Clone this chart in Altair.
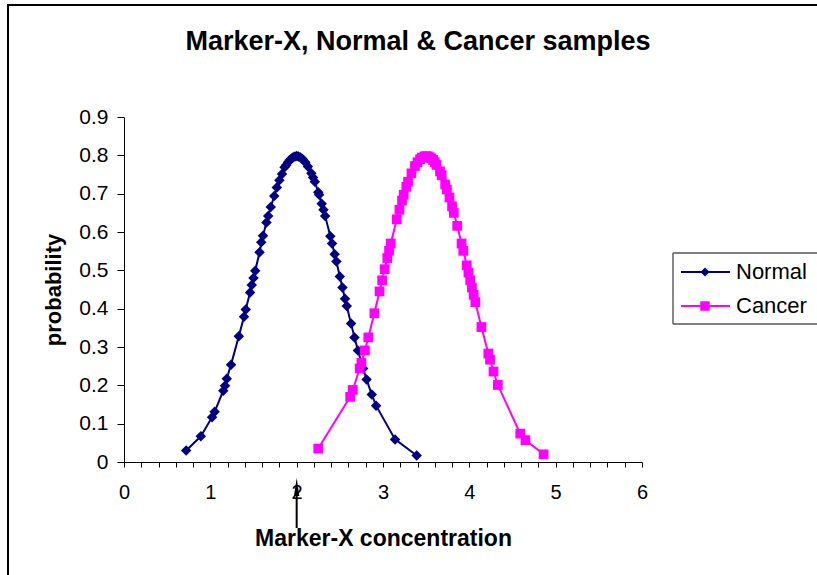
import altair as alt
import pandas as pd

# Sample points for each group: marker concentration and its probability
normal_x = [0.72, 0.89, 1.02, 1.05, 1.15, 1.17, 1.19, 1.24, 1.33, 1.39, 1.41, 1.46, 1.48, 1.50,
            1.52, 1.57, 1.59, 1.61, 1.65, 1.67, 1.70, 1.74, 1.77, 1.80, 1.83, 1.86, 1.88, 1.90,
            1.92, 1.94, 1.96, 1.98, 2.00, 2.02, 2.04, 2.06, 2.07, 2.10, 2.13, 2.17, 2.19, 2.21,
            2.25, 2.26, 2.29, 2.31, 2.33, 2.39, 2.41, 2.44, 2.46, 2.50, 2.53, 2.56, 2.58, 2.63,
            2.67, 2.71, 2.77, 2.81, 2.87, 2.92, 3.14, 3.39]
normal_y = [0.030, 0.067, 0.117, 0.131, 0.186, 0.199, 0.217, 0.254, 0.328, 0.379, 0.398, 0.442,
            0.462, 0.480, 0.499, 0.547, 0.573, 0.590, 0.625, 0.642, 0.665, 0.694, 0.716, 0.735,
            0.751, 0.769, 0.775, 0.782, 0.788, 0.792, 0.795, 0.797, 0.798, 0.797, 0.795, 0.792,
            0.790, 0.782, 0.771, 0.753, 0.742, 0.731, 0.704, 0.697, 0.674, 0.658, 0.642, 0.589,
            0.570, 0.542, 0.523, 0.484, 0.455, 0.426, 0.407, 0.361, 0.325, 0.291, 0.244, 0.215,
            0.176, 0.147, 0.059, 0.017]

cancer_x = [2.25, 2.62, 2.65, 2.73, 2.75, 2.79, 2.83, 2.90, 2.96, 2.99, 3.02, 3.05, 3.07, 3.09,
            3.16, 3.19, 3.22, 3.24, 3.27, 3.29, 3.33, 3.37, 3.40, 3.43, 3.45, 3.48, 3.50, 3.52,
            3.54, 3.56, 3.58, 3.60, 3.62, 3.66, 3.68, 3.72, 3.74, 3.77, 3.80, 3.82, 3.86, 3.91,
            3.93, 3.97, 3.99, 4.01, 4.03, 4.05, 4.07, 4.14, 4.22, 4.24, 4.28, 4.33, 4.59, 4.65,
            4.86]
cancer_y = [0.035, 0.170, 0.188, 0.244, 0.259, 0.291, 0.325, 0.388, 0.445, 0.474, 0.503, 0.532,
            0.551, 0.570, 0.633, 0.658, 0.682, 0.697, 0.718, 0.731, 0.753, 0.772, 0.782, 0.790,
            0.794, 0.797, 0.798, 0.797, 0.795, 0.792, 0.788, 0.782, 0.775, 0.758, 0.748, 0.724,
            0.711, 0.690, 0.667, 0.650, 0.616, 0.570, 0.551, 0.513, 0.494, 0.474, 0.455, 0.436,
            0.417, 0.352, 0.283, 0.267, 0.236, 0.201, 0.074, 0.057, 0.020]

series_names = ["Normal", "Cancer"]
series_colors = ["#000080", "#FF00FF"]
series_shapes = ["diamond", "square"]

x_tick_values = [0, 0.2, 0.4, 0.6, 0.8, 1, 1.2, 1.4, 1.6, 1.8, 2, 2.2, 2.4, 2.6, 2.8, 3,
                 3.2, 3.4, 3.6, 3.8, 4, 4.2, 4.4, 4.6, 4.8, 5, 5.2, 5.4, 5.6, 5.8, 6]
y_tick_values = [0, 0.1, 0.2, 0.3, 0.4, 0.5, 0.6, 0.7, 0.8, 0.9]

title_text = "Marker-X, Normal & Cancer samples"
x_title = "Marker-X concentration"
y_title = "probability"
arrow_at = 2

FONT = "Liberation Sans"
W, H = 518, 345

df = pd.concat([
    pd.DataFrame({"x": normal_x, "y": normal_y, "series": "Normal"}),
    pd.DataFrame({"x": cancer_x, "y": cancer_y, "series": "Cancer"}),
])

x_enc = alt.X(
    "x:Q",
    scale=alt.Scale(domain=[0, 6], nice=False, zero=False),
    axis=alt.Axis(
        values=x_tick_values, tickCount=100,
        labelExpr="abs(datum.value - round(datum.value)) < 0.001 ? format(datum.value, 'd') : ''",
        grid=False, tickSize=5, tickColor="black", domainColor="black",
        labelFontSize=20, labelColor="black", labelPadding=15, labelFlush=False,
        labelOverlap=False, labelFont=FONT,
        title=x_title, titleFont=FONT, titleFontSize=23, titleFontWeight="bold",
        titleColor="black", titleX=W / 2, titleY=83, titleBaseline="alphabetic",
        titleAlign="center",
    ),
)
y_enc = alt.Y(
    "y:Q",
    scale=alt.Scale(domain=[0, 0.9], nice=False),
    axis=alt.Axis(
        values=y_tick_values, tickCount=100, format=".1~f",
        grid=False, tickSize=7, tickColor="black", domainColor="black",
        labelFontSize=21, labelColor="black", labelPadding=9, labelFont=FONT,
        title=y_title, titleFont=FONT, titleFontSize=22, titleFontWeight="bold",
        titleColor="black", titleX=-71, titleY=H / 2, titleAngle=270,
        titleAlign="center", titleBaseline="middle",
    ),
)
color_enc = alt.Color("series:N", scale=alt.Scale(domain=series_names, range=series_colors), legend=None)
shape_enc = alt.Shape("series:N", scale=alt.Scale(domain=series_names, range=series_shapes), legend=None)

base = alt.Chart(df)


def series_layers(name, size):
    sub = base.transform_filter(alt.datum.series == name)
    line = sub.mark_line(strokeWidth=2).encode(x=x_enc, y=y_enc, color=color_enc)
    pts = sub.mark_point(filled=True, opacity=1, size=size).encode(
        x=x_enc, y=y_enc, color=color_enc, shape=shape_enc)
    return [line, pts]


one = alt.Data(values=[{}])


def hline(x0, x1, y, color="black", width=2):
    return alt.Chart(one).mark_rule(color=color, strokeWidth=width).encode(
        x=alt.value(x0), x2=alt.value(x1), y=alt.value(y))


def vline(x, y0, y1, color="black", width=2):
    return alt.Chart(one).mark_rule(color=color, strokeWidth=width).encode(
        x=alt.value(x), y=alt.value(y0), y2=alt.value(y1))


# chart-area frame: top and left edges (the others run past the page)
frame = [hline(-117, 700, -112), vline(-116, -113, 470)]

title = alt.Chart(one).mark_text(
    font=FONT, fontSize=27, fontWeight="bold", color="black", align="center", baseline="alphabetic"
).encode(x=alt.value(294), y=alt.value(-67), text=alt.value(title_text))

# arrow below the axis pointing at the normal mean
arrow_stem = alt.Chart(one).mark_rule(color="black", strokeWidth=2).encode(
    x=alt.datum(arrow_at), y=alt.value(372), y2=alt.value(411))
arrow_head = alt.Chart(one).mark_point(
    shape="M0,-1L0.3,1L-0.3,1Z", filled=True, color="black", opacity=1, size=324
).encode(x=alt.datum(arrow_at), y=alt.value(370))

# legend box (open on the right, where it meets the page edge) with one entry per series
legend_layers = [
    hline(549, 700, 136, width=1.2),
    hline(549, 700, 207, color="#555555", width=1.6),
    vline(549, 136, 207, color="#555555", width=1.4),
]
for i, name in enumerate(series_names):
    yc = 155 + 34 * i
    legend_layers.append(hline(557, 606, yc, color=series_colors[i], width=2))
    legend_layers.append(alt.Chart(one).mark_point(
        shape=series_shapes[i], filled=True, color=series_colors[i], opacity=1,
        size=81 if i == 0 else 90).encode(x=alt.value(581), y=alt.value(yc)))
    legend_layers.append(alt.Chart(one).mark_text(
        font=FONT, fontSize=22, color="black", align="left", baseline="middle"
    ).encode(x=alt.value(612), y=alt.value(yc), text=alt.value(name)))

chart = alt.layer(
    *frame, title,
    *series_layers("Normal", 110),
    *series_layers("Cancer", 95),
    arrow_stem, arrow_head,
    *legend_layers,
).properties(
    width=W, height=H,
    autosize=alt.AutoSizeParams(type="none"),
    padding={"left": 124, "top": 117, "right": 175, "bottom": 113},
    background="white",
).configure(font=FONT).configure_view(stroke="transparent")

chart.save("out.html", embed_options={"renderer": "svg", "actions": False})
